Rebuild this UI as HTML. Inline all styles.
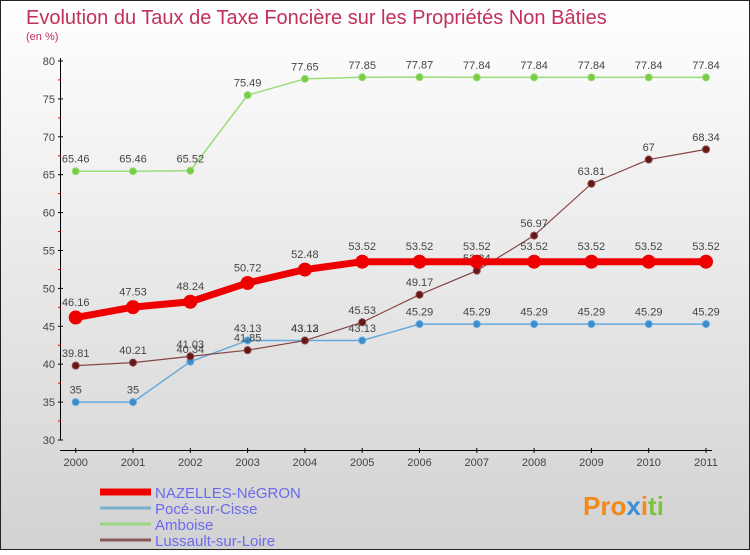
<!DOCTYPE html>
<html><head><meta charset="utf-8"><style>
body{margin:0}
svg text{font-family:"Liberation Sans",sans-serif}
</style></head><body>
<svg id="c" width="750" height="550" xmlns="http://www.w3.org/2000/svg">
<defs><linearGradient id="bg" x1="0" y1="0" x2="0" y2="1"><stop offset="0" stop-color="#ffffff"/><stop offset="1" stop-color="#d2d2d2"/></linearGradient></defs>
<rect x="0.5" y="0.5" width="749" height="549" fill="url(#bg)" stroke="#222"/>
<text x="26" y="24" font-size="20" fill="#c0305a">Evolution du Taux de Taxe Foncière sur les Propriétés Non Bâties</text>
<text x="26" y="40" font-size="11" fill="#c0305a">(en %)</text>
<g id="axes"></g><g id="series"></g><g id="legend"></g>
<text x="583" y="515" font-size="26" font-weight="bold" fill="#f08a1c">Pro<tspan fill="#3a8fd8">x</tspan><tspan fill="#f08a1c">i</tspan><tspan fill="#7cc242">ti</tspan></text>
</svg>
<script>
const years=[2000,2001,2002,2003,2004,2005,2006,2007,2008,2009,2010,2011];
const yTicks=[30,35,40,45,50,55,60,65,70,75,80];
const nazelles=[46.16,47.53,48.24,50.72,52.48,53.52,53.52,53.52,53.52,53.52,53.52,53.52];
const poce=[35,35,40.34,43.13,43.13,43.13,45.29,45.29,45.29,45.29,45.29,45.29];
const amboise=[65.46,65.46,65.52,75.49,77.65,77.85,77.87,77.84,77.84,77.84,77.84,77.84];
const lussault=[39.81,40.21,41.03,41.85,43.12,45.53,49.17,52.34,56.97,63.81,67,68.34];
const seriesNames=["NAZELLES-NéGRON","Pocé-sur-Cisse","Amboise","Lussault-sur-Loire"];
const NS="http://www.w3.org/2000/svg";
const X=i=>75.7+i*(706-75.7)/(years.length-1);
const Y=v=>440-(v-30)*(440-61)/50;
function mk(p,t,a){const e=document.createElementNS(NS,t);for(const k in a)e.setAttribute(k,a[k]);p.appendChild(e);return e;}
const ax=document.getElementById('axes');
let l=mk(ax,'line',{x1:60.5,y1:58,x2:60.5,y2:440,stroke:'#000'});


l=mk(ax,'line',{x1:60,y1:450.5,x2:712,y2:450.5,stroke:'#000'});


yTicks.forEach((v,i)=>{
 mk(ax,'line',{x1:58,x2:63,y1:Y(v),y2:Y(v),stroke:'#000'});
 if(i<yTicks.length-1)mk(ax,'line',{x1:58,x2:61,y1:Y(v+2.5),y2:Y(v+2.5),stroke:'#d00'});
 const t=mk(ax,'text',{x:55,y:Y(v)+4,'font-size':11,'text-anchor':'end',fill:'#444'});t.textContent=v;
 
 
});
years.forEach((y,i)=>{
 mk(ax,'line',{x1:X(i),x2:X(i),y1:448,y2:453,stroke:'#000'});
 const t=mk(ax,'text',{x:X(i),y:466,'font-size':11,'text-anchor':'middle',fill:'#444'});t.textContent=y;
 
 
});
const sg=document.getElementById('series');
function draw(data,color,w,r,name,dot){
 const g=mk(sg,'g',{});
 
 
 mk(g,'polyline',{points:data.map((v,i)=>X(i)+','+Y(v)).join(' '),fill:'none',stroke:color,'stroke-width':w});
 data.forEach((v,i)=>{
  const c=mk(g,'circle',{cx:X(i),cy:Y(v),r:r,fill:dot,stroke:color,'stroke-width':1});
  
  
  const t=mk(g,'text',{x:X(i),y:Y(v)-r-5,'font-size':11,'text-anchor':'middle',fill:'#444'});t.textContent=v;
  
  
 });
}
draw(amboise,'#99dd77',1.5,3.5,'series-amboise','#77cc44');
draw(poce,'#66aadd',1.5,3.5,'series-poce','#3a8ccc');
draw(lussault,'#884444',1.2,3.5,'series-lussault','#661818');
draw(nazelles,'#ee0000',7,6.5,'series-nazelles','#ee0000');
const lg=document.getElementById('legend');
const lc=['#ee0000','#7aaed0','#99d680','#8a5a5a'],lw=[7,3,3,3];
seriesNames.forEach((n,i)=>{
 const y=492+i*16;
 const g=mk(lg,'g',{});
 
 
 mk(g,'line',{x1:100,x2:151,y1:y,y2:y,stroke:lc[i],'stroke-width':lw[i]});
 const t=mk(g,'text',{x:155,y:y+6,'font-size':15,fill:'#6a6aee'});t.textContent=n;
});
</script>
</body></html>
